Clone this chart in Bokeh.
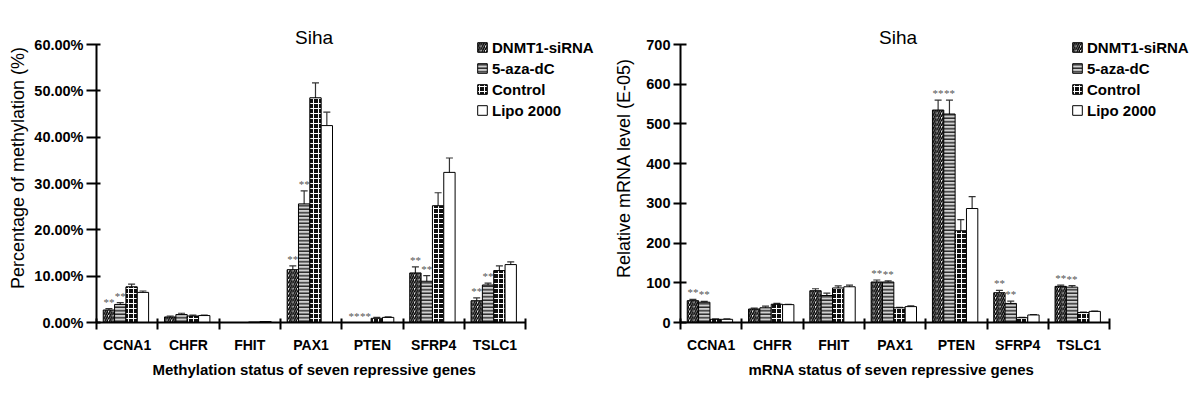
from bokeh.plotting import figure
from bokeh.models import (Range1d, FixedTicker, PrintfTickFormatter, Whisker, ColumnDataSource,
                          Legend, LegendItem, TeeHead, Label, Title)
from bokeh.layouts import row
from bokeh.embed import file_html
from bokeh.resources import INLINE

genes = ["CCNA1", "CHFR", "FHIT", "PAX1", "PTEN", "SFRP4", "TSLC1"]
series = ["DNMT1-siRNA", "5-aza-dC", "Control", "Lipo 2000"]

# Methylation (%)
meth_dnmt1 = [2.7, 1.2, 0.0, 11.4, 0.0, 10.7, 4.7]
meth_aza = [3.9, 1.7, 0.0, 25.6, 0.0, 8.9, 8.1]
meth_control = [7.7, 1.4, 0.1, 48.5, 0.9, 25.2, 11.2]
meth_lipo = [6.5, 1.5, 0.2, 42.5, 1.1, 32.4, 12.5]
meth_dnmt1_err = [0.3, 0.2, 0.0, 0.8, 0.0, 1.3, 0.6]
meth_aza_err = [0.4, 0.3, 0.0, 2.8, 0.0, 1.2, 0.4]
meth_control_err = [0.6, 0.2, 0.0, 3.2, 0.2, 2.8, 1.0]
meth_lipo_err = [0.3, 0.1, 0.0, 2.9, 0.1, 3.1, 0.6]
meth_sig = ["**", "", "", "**", "**", "**", "**"]

# mRNA (E-05)
mrna_dnmt1 = [55, 34, 80, 102, 535, 75, 91]
mrna_aza = [51, 37, 68, 102, 525, 48, 89]
mrna_control = [8, 46, 87, 37, 231, 12, 25]
mrna_lipo = [8, 45, 90, 40, 287, 19, 28]
mrna_dnmt1_err = [3, 2, 5, 5, 25, 6, 3]
mrna_aza_err = [2, 4, 6, 3, 35, 6, 4]
mrna_control_err = [1, 2, 5, 1, 28, 1, 1]
mrna_lipo_err = [1, 1, 4, 2, 30, 1, 1]
mrna_sig = ["**", "", "", "**", "**", "**", "**"]

FONT = "Liberation Sans"

STYLES = [
    dict(fill_color="white", hatch_pattern="right_diagonal_line", hatch_color="black",
         hatch_weight=1.6, hatch_scale=4.5),
    dict(fill_color="#d0d0d0", hatch_pattern="horizontal_line", hatch_color="#222222",
         hatch_weight=1.4, hatch_scale=3.5),
    dict(fill_color="#111111", hatch_pattern="cross", hatch_color="white",
         hatch_weight=1, hatch_scale=5),
    dict(fill_color="white"),
]

AXIS_PX = 278.0     # pixel length of the drawn y axis
EXTRA_PX = 31.0     # frame space above the axis top (legend/title live there)


def make_chart(vals, errs, sig, ymax, ystep, fmt, ylabel, xlabel, width, border_left,
               legend_x, ylabel_standoff, tick_out, tick_in, xlabel_offset):
    upp = ymax / AXIS_PX
    p = figure(width=width, height=398, output_backend="svg", toolbar_location=None,
               x_range=Range1d(0, (width - border_left) / 61.3),
               y_range=Range1d(0, ymax + EXTRA_PX * upp),
               min_border_left=border_left, min_border_top=13, min_border_bottom=76,
               min_border_right=0)
    p.outline_line_color = None
    p.xgrid.visible = False
    p.ygrid.visible = False

    p.add_layout(Label(x=3.55, y=ymax + 7 * upp, text="Siha", text_align="center",
                       text_baseline="middle", text_font=FONT, text_font_size="19px",
                       text_color="black"))

    bw = 0.185
    items = []
    for j, (name, v, e, st) in enumerate(zip(series, vals, errs, STYLES)):
        xs = [i + 0.48 + (j - 1.5) * bw for i in range(len(genes))]
        src = ColumnDataSource(dict(x=xs, top=v))
        r = p.vbar(x="x", top="top", width=bw, source=src, line_color="black",
                   line_width=1, **st)
        items.append(LegendItem(label=name, renderers=[r]))
        ex = [x for x, ee in zip(xs, e) if ee > 0]
        lo = [t - ee for t, ee in zip(v, e) if ee > 0]
        hi = [t + ee for t, ee in zip(v, e) if ee > 0]
        wsrc = ColumnDataSource(dict(base=ex, lower=lo, upper=hi))
        w = Whisker(base="base", lower="lower", upper="upper", source=wsrc,
                    line_color="#333333", line_width=1.2,
                    upper_head=TeeHead(size=7, line_color="#333333", line_width=1.2),
                    lower_head=TeeHead(size=7, line_color="#333333", line_width=1.2))
        p.add_layout(w)
        if j < 2:
            sx = [x for x, s in zip(xs, sig) if s]
            sy = [t + ee for t, ee, s in zip(v, e, sig) if s]
            st_txt = [s for s in sig if s]
            p.text(x=sx, y=sy, text=st_txt, text_align="center", text_baseline="bottom",
                   y_offset=-1, text_font_size="11px", text_color="#555555",
                   text_font=FONT)

    legend = Legend(items=items, location=(legend_x, 203), border_line_color=None,
                    background_fill_alpha=0, padding=0, margin=0, spacing=3,
                    glyph_width=12, glyph_height=12, label_height=18, label_standoff=4,
                    label_text_font=FONT, label_text_font_style="bold",
                    label_text_font_size="15px", label_text_color="black")
    p.add_layout(legend)

    xa = p.xaxis[0]
    xa.ticker = FixedTicker(ticks=[i + 0.5 for i in range(len(genes))],
                            minor_ticks=list(range(len(genes) + 1)))
    xa.major_label_overrides = {i + 0.5: g for i, g in enumerate(genes)}
    xa.bounds = (0, len(genes))
    xa.axis_line_width = 2
    xa.axis_line_color = "black"
    xa.major_tick_out = 0
    xa.major_tick_in = 0
    xa.minor_tick_out = 7
    xa.minor_tick_in = 4
    xa.minor_tick_line_width = 2
    xa.minor_tick_line_color = "black"
    xa.major_label_standoff = 7
    xa.major_label_text_font = FONT
    xa.major_label_text_font_style = "bold"
    xa.major_label_text_font_size = "14px"
    xa.major_label_text_color = "black"

    xt = Title(text=xlabel, align="left", offset=xlabel_offset, text_font=FONT,
               text_font_style="bold", text_font_size="15px", text_color="black",
               standoff=6)
    p.add_layout(xt, "below")

    ya = p.yaxis[0]
    ya.ticker = FixedTicker(ticks=list(range(0, ymax + 1, ystep)))
    ya.bounds = (0, ymax)
    ya.formatter = fmt
    ya.axis_line_width = 2
    ya.axis_line_color = "black"
    ya.major_tick_line_width = 2
    ya.major_tick_line_color = "black"
    ya.major_tick_out = tick_out
    ya.major_tick_in = tick_in
    ya.minor_tick_out = 0
    ya.minor_tick_in = 0
    ya.major_label_standoff = 3
    ya.major_label_text_font = FONT
    ya.major_label_text_font_style = "bold"
    ya.major_label_text_font_size = "14.5px"
    ya.major_label_text_color = "black"
    ya.axis_label = ylabel
    ya.axis_label_text_font = FONT
    ya.axis_label_text_font_style = "normal"
    ya.axis_label_text_font_size = "18px"
    ya.axis_label_text_color = "black"
    ya.axis_label_standoff = ylabel_standoff
    return p


p1 = make_chart([meth_dnmt1, meth_aza, meth_control, meth_lipo],
                [meth_dnmt1_err, meth_aza_err, meth_control_err, meth_lipo_err],
                meth_sig, 60, 10, PrintfTickFormatter(format="%.2f%%"),
                "Percentage of methylation (%)", "Methylation status of seven repressive genes",
                608, 96, 380, 3, 10, 4, 56)
p2 = make_chart([mrna_dnmt1, mrna_aza, mrna_control, mrna_lipo],
                [mrna_dnmt1_err, mrna_aza_err, mrna_control_err, mrna_lipo_err],
                mrna_sig, 700, 100, PrintfTickFormatter(format="%d"),
                "Relative mRNA level (E-05)", "mRNA status of seven repressive genes",
                592, 72, 391, 9, 7, 6, 68)

layout = row(p1, p2)
open("out.html", "w").write(file_html(layout, INLINE))
